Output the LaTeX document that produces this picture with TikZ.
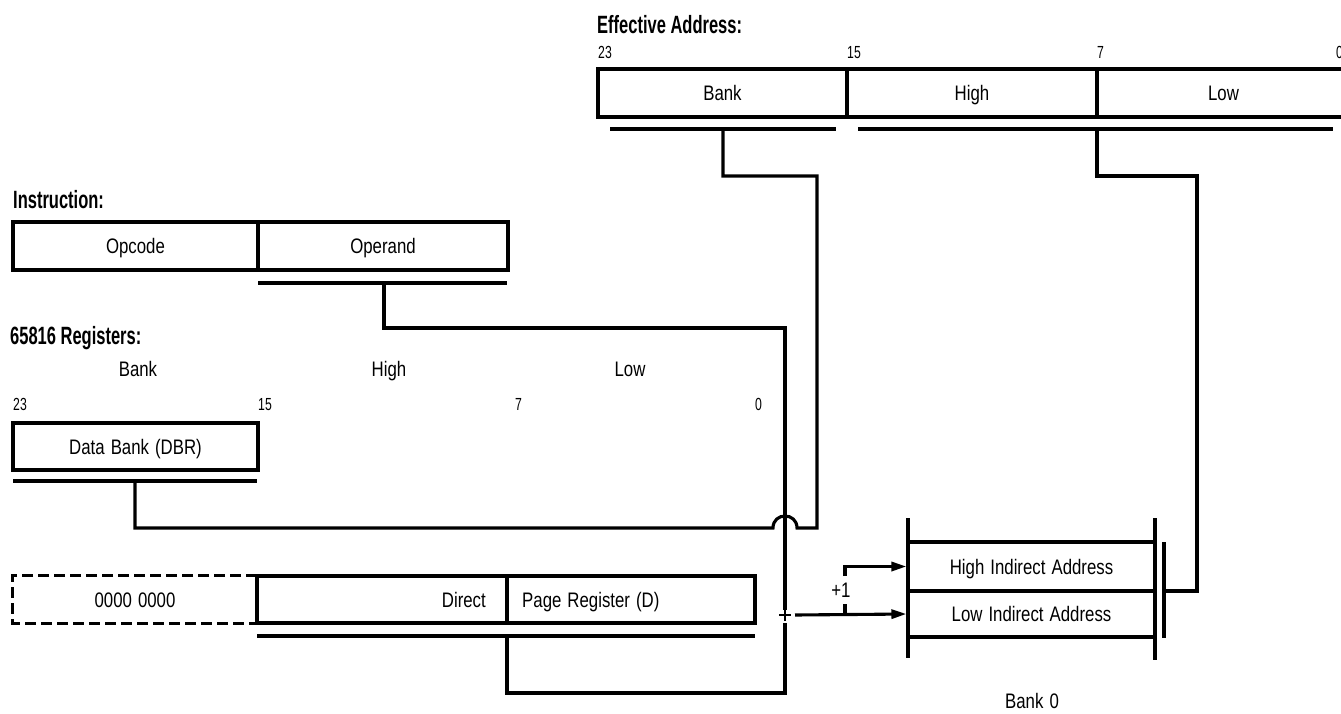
\documentclass[tikz,border=0pt]{standalone}
\usepackage{fontspec}
\setmainfont{Liberation Sans}[FakeStretch=0.8, WordSpace=1.3]
\newfontfamily\headfont{Liberation Sans}[FakeStretch=0.66]
\newfontfamily\bitfont{Liberation Sans}[FakeStretch=0.7]
\usetikzlibrary{arrows.meta}
\begin{document}
\begin{tikzpicture}[x=1pt,y=-1pt,
  wire/.style={line width=3.1pt},
  field/.style={draw, line width=3.1pt, inner sep=0pt, text height=15pt, text depth=0pt,
    font=\fontsize{21}{23}\selectfont},
  txt/.style={inner sep=0pt, text height=15pt, text depth=0pt, font=\fontsize{21}{23}\selectfont},
  head/.style={anchor=base west, inner sep=0pt, font=\headfont\bfseries\fontsize{25}{27}\selectfont},
  bitno/.style={anchor=base west, inner sep=0pt, font=\bitfont\fontsize{17.5}{19}\selectfont},
  tip/.style={-{Triangle[length=15pt,width=9pt]}}
]
\useasboundingbox (0,0) rectangle (1341,713);

% ---------------- Effective address (24 bits) ----------------
\node[head] (eaTitle) at (597,33) {Effective Address:};
\node[bitno] (ea23) at (598,58) {23};
\node[bitno] (ea15) at (847,58) {15};
\node[bitno] (ea7)  at (1097,58) {7};
\node[bitno] (ea0)  at (1336,58) {0};
\node[field, minimum width=249pt, minimum height=48pt] (eaBank) at (722.5,93) {Bank};
\node[field, minimum width=250pt, minimum height=48pt] (eaHigh) at (972,93) {High};
\node[field, minimum width=253pt, minimum height=48pt] (eaLow)  at (1223.5,93) {Low};
\draw[wire] (610,129) -- (836,129);
\draw[wire] (858,129) -- (1333,129);
\coordinate (eaBankTap) at (723,129);
\coordinate (eaBankJog) at (817,176);
\coordinate (eaLowTap)  at (1097,129);
\coordinate (eaLowJog)  at (1197,176);

% ---------------- Instruction ----------------
\node[head] (insTitle) at (13,208) {Instruction:};
\node[field, minimum width=245pt, minimum height=48pt] (opcode)  at (135.5,246) {Opcode};
\node[field, minimum width=250pt, minimum height=48pt] (operand) at (383,246) {Operand};
\draw[wire] (258,283) -- (507,283);
\coordinate (opTap)  at (384,283);
\coordinate (opTurn) at (785,328);

% ---------------- Registers ----------------
\node[head] (regTitle) at (10,344) {65816 Registers:};
\node[txt, anchor=base] (hBank) at (138,376) {Bank};
\node[txt, anchor=base] (hHigh) at (389,376) {High};
\node[txt, anchor=base] (hLow)  at (630,376) {Low};
\node[bitno] (r23) at (13,410) {23};
\node[bitno] (r15) at (258,410) {15};
\node[bitno] (r7)  at (515,410) {7};
\node[bitno] (r0)  at (755,410) {0};

\node[field, minimum width=245pt, minimum height=47pt] (dbr) at (135.5,446.5) {Data Bank (DBR)};
\draw[wire] (13,481) -- (257,481);
\coordinate (dbrTap) at (135,481);
\coordinate (hopL) at (773,528);
\coordinate (hopR) at (797,528);

% direct page register, with its implied zero bank
\node[txt, minimum width=244pt, minimum height=47pt] (zeroBank) at (135,599.5) {0000 0000};
\draw[wire, dash pattern=on 11pt off 5pt]
  (zeroBank.north east) -- (zeroBank.north west) -- (zeroBank.south west) -- (zeroBank.south east);
\node[field, minimum width=250pt, minimum height=47pt] (dpHigh) at (382,599.5) {};
\node[field, minimum width=248pt, minimum height=47pt] (dpLow)  at (631,599.5) {};
\node[txt, anchor=east] (dpTextA) at (486,599.5) {Direct};
\node[txt, anchor=west] (dpTextB) at (522,599.5) {Page Register (D)};
\draw[wire] (257,636) -- (755,636);
\coordinate (dpTap)  at (507,636);
\coordinate (dpTurn) at (785,693);

% ---------------- Adder and bank 0 memory ----------------
\coordinate (sum) at (785,615);
\draw[line width=1.8pt] ([xshift=-6pt]sum) -- ([xshift=6pt]sum)
  ([yshift=-6pt]sum) -- ([yshift=6pt]sum);

\node[field, minimum width=247pt, minimum height=49pt] (highRow) at (1031.5,566.5) {High Indirect Address};
\node[field, minimum width=247pt, minimum height=46pt] (lowRow)  at (1031.5,614) {Low Indirect Address};
\draw[wire] (908,518) -- (908,658);
\draw[wire] (1155,518) -- (1155,660);
\draw[wire] (1164,542) -- (1164,638);
\coordinate (memTap) at (1164,591);
\node[txt] (bank0) at (1032,701) {Bank 0};

\coordinate (incTap) at (845,615);
\coordinate (incTop) at (845,576);
\node[txt, font=\fontsize{21}{22}\selectfont] (plusOne) at (841,590) {+1};

% ---------------- Connectors ----------------
% operand into the adder
\draw[wire] (opTap) |- (opTurn) -- ([yshift=5pt]sum);
% direct page into the adder
\draw[wire] (dpTap) |- (dpTurn) -- ([yshift=-8pt]sum);
% data bank to the bank byte of the effective address, hopping over the operand line
\draw[wire] (dbrTap) |- (hopL) .. controls (773,512) and (797,512) .. (hopR)
  -| (eaBankJog) -- (eaBankTap |- eaBankJog) -- (eaBankTap);
% adder output to the low pointer byte, and +1 to the high pointer byte
\draw[wire, tip] ([xshift=10pt]sum) -- (lowRow.west);
\draw[wire] (incTap) -- ([yshift=11pt]incTap);
\draw[wire, tip] (incTop) |- (highRow.west);
% indirect address to the high and low bytes of the effective address
\draw[wire] (memTap) -- (memTap -| eaLowJog) -- (eaLowJog) -- (eaLowTap |- eaLowJog) -- (eaLowTap);
\end{tikzpicture}
\end{document}
